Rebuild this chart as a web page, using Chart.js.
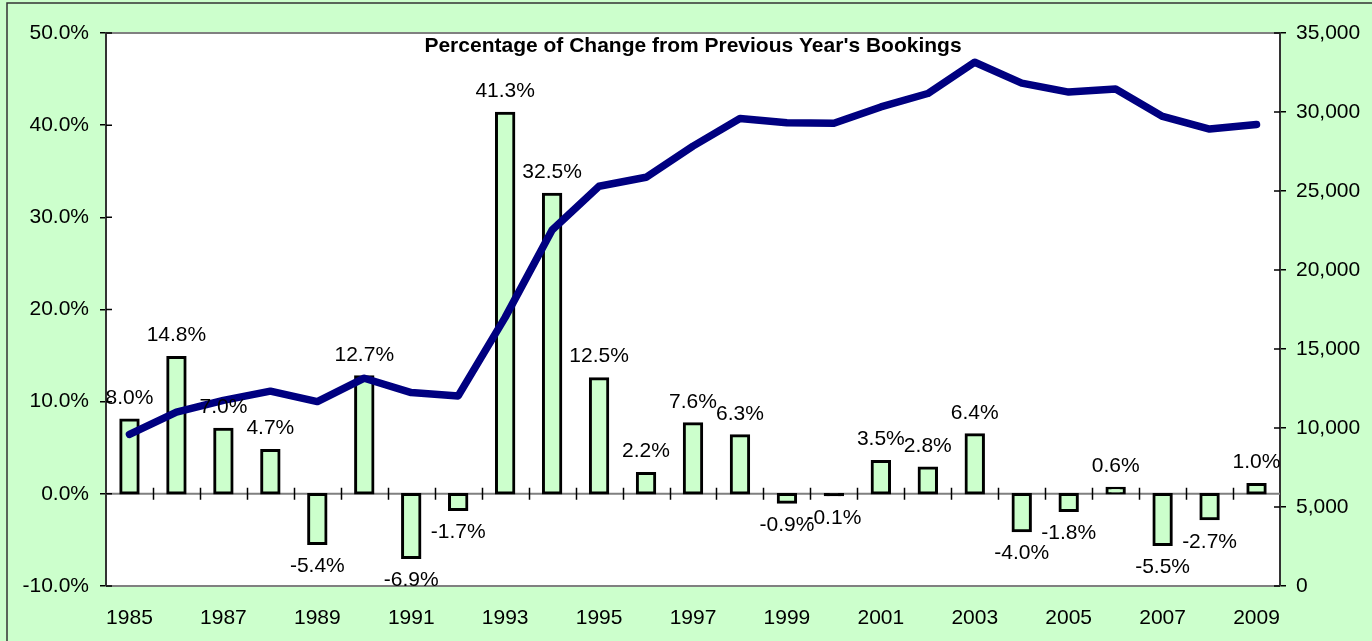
<!DOCTYPE html>
<html>
<head>
<meta charset="utf-8">
<script src="https://cdn.jsdelivr.net/npm/chart.js@4.4.1/dist/chart.umd.min.js"></script>
<style>
  html, body { margin: 0; padding: 0; background: #ccffcc; }
  #wrap { width: 1372px; height: 641px; position: relative; }
</style>
</head>
<body>
<div id="wrap"><canvas id="bookingsChart"></canvas></div>
<script>
// yearly bookings and % change from the year before
const years = ["1985", "1986", "1987", "1988", "1989", "1990", "1991", "1992", "1993", "1994",
  "1995", "1996", "1997", "1998", "1999", "2000", "2001", "2002", "2003", "2004",
  "2005", "2006", "2007", "2008", "2009"];

const pctChange = [8.0, 14.8, 7.0, 4.7, -5.4, 12.7, -6.9, -1.7, 41.3, 32.5,
  12.5, 2.2, 7.6, 6.3, -0.9, -0.1, 3.5, 2.8, 6.4, -4.0,
  -1.8, 0.6, -5.5, -2.7, 1.0];

const bookings = [9600, 11000, 11750, 12330, 11670, 13150, 12240, 12030, 17000, 22530,
  25300, 25870, 27840, 29590, 29320, 29290, 30320, 31170, 33150, 31830,
  31260, 31450, 29720, 28920, 29210];

const pctTicks = [-10, 0, 10, 20, 30, 40, 50];
const bookingTicks = [0, 5000, 10000, 15000, 20000, 25000, 30000, 35000];

const chartTitle = "Percentage of Change from Previous Year's Bookings";

const fontFamily = "'Liberation Sans', Arial, sans-serif";
Chart.defaults.font.family = fontFamily;
Chart.defaults.font.size = 21;
Chart.defaults.color = "#000";

const tickFont = { size: 21 };

// white plot area, outer frame, zero line with category ticks
const plotFrame = {
  id: "plotFrame",
  beforeDraw(chart) {
    const { ctx, chartArea: a } = chart;
    ctx.save();
    ctx.fillStyle = "#fff";
    ctx.fillRect(a.left, a.top, a.right - a.left, a.bottom - a.top);
    ctx.strokeStyle = "#333";
    ctx.lineWidth = 1.5;
    ctx.beginPath();
    ctx.moveTo(7, chart.height);
    ctx.lineTo(7, 3);
    ctx.lineTo(chart.width, 3);
    ctx.stroke();
    ctx.restore();
  },
  beforeDatasetsDraw(chart) {
    const { ctx, chartArea: a, scales } = chart;
    const x = scales.x;
    const yl = scales.yLeft;
    const yr = scales.yRight;
    ctx.save();
    ctx.strokeStyle = "#808080";
    ctx.lineWidth = 2;
    ctx.beginPath();
    ctx.moveTo(a.left, a.top);
    ctx.lineTo(a.right, a.top);
    ctx.moveTo(a.left, a.bottom);
    ctx.lineTo(a.right, a.bottom);
    const y0 = yl.getPixelForValue(0);
    ctx.moveTo(a.left, y0);
    ctx.lineTo(a.right, y0);
    ctx.stroke();

    ctx.strokeStyle = "#000";
    ctx.lineWidth = 1.5;
    ctx.beginPath();
    for (let i = 1; i < years.length; i++) {
      const bx = Math.round((x.getPixelForValue(i - 1) + x.getPixelForValue(i)) / 2) + 0.5;
      ctx.moveTo(bx, y0 - 6);
      ctx.lineTo(bx, y0 + 6);
    }
    // inner halves of the value-axis ticks
    pctTicks.forEach((v) => {
      const ty = yl.getPixelForValue(v);
      ctx.moveTo(a.left, ty);
      ctx.lineTo(a.left + 6, ty);
    });
    bookingTicks.forEach((v) => {
      const ty = yr.getPixelForValue(v);
      ctx.moveTo(a.right - 6, ty);
      ctx.lineTo(a.right, ty);
    });
    ctx.stroke();
    ctx.restore();
  },
  afterDatasetsDraw(chart) {
    const { ctx, chartArea: a } = chart;
    ctx.save();
    ctx.fillStyle = "#000";
    ctx.font = "bold 21px " + fontFamily;
    ctx.textAlign = "center";
    ctx.textBaseline = "middle";
    ctx.fillText(chartTitle, (a.left + a.right) / 2, a.top + 13);

    // value labels outside the end of each bar
    const meta = chart.getDatasetMeta(1);
    ctx.font = "21px " + fontFamily;
    meta.data.forEach((bar, i) => {
      const v = pctChange[i];
      const top = Math.min(bar.y, bar.base);
      const bottom = Math.max(bar.y, bar.base);
      const ly = v >= 0 ? top - 22 : bottom + 23;
      ctx.fillText(v.toFixed(1) + "%", bar.x, ly);
    });
    ctx.restore();
  },
};

const ctx = document.getElementById("bookingsChart");

new Chart(ctx, {
  data: {
    labels: years,
    datasets: [
      {
        type: "line",
        data: bookings,
        yAxisID: "yRight",
        borderColor: "#000080",
        borderWidth: 7.5,
        borderCapStyle: "round",
        borderJoinStyle: "round",
        pointRadius: 0,
        tension: 0,
        order: 1,
      },
      {
        type: "bar",
        data: pctChange,
        yAxisID: "yLeft",
        // a near-zero bar shows only as its outline
        backgroundColor: (c) => (Math.abs(c.raw) < 0.3 ? "#000" : "#ccffcc"),
        borderColor: "#000",
        borderWidth: 3,
        borderSkipped: false,
        inflateAmount: 1.5,
        barPercentage: 0.37,
        categoryPercentage: 1,
        order: 2,
      },
    ],
  },
  options: {
    responsive: true,
    maintainAspectRatio: false,
    animation: false,
    layout: { padding: { top: 33, left: 0, right: 0, bottom: 0 } },
    plugins: {
      legend: { display: false },
      tooltip: { enabled: false },
    },
    scales: {
      x: {
        offset: true,
        grid: { display: false },
        border: { display: false },
        ticks: {
          autoSkip: false,
          maxRotation: 0,
          padding: 12,
          font: tickFont,
          callback: (v, i) => (i % 2 === 0 ? years[i] : ""),
        },
        afterFit: (s) => {
          s.height = 55;
        },
      },
      yLeft: {
        position: "left",
        min: -10,
        max: 50,
        afterBuildTicks: (s) => {
          s.ticks = pctTicks.map((v) => ({ value: v }));
        },
        ticks: {
          padding: 11,
          font: tickFont,
          callback: (v) => v.toFixed(1) + "%",
        },
        grid: { drawOnChartArea: false, tickLength: 6, color: "#000", lineWidth: 1.5 },
        border: { color: "#333", width: 2 },
        afterFit: (s) => {
          s.width = 106;
        },
      },
      yRight: {
        position: "right",
        min: 0,
        max: 35000,
        afterBuildTicks: (s) => {
          s.ticks = bookingTicks.map((v) => ({ value: v }));
        },
        ticks: {
          padding: 10,
          font: tickFont,
          callback: (v) => v.toLocaleString("en-US"),
        },
        grid: { drawOnChartArea: false, tickLength: 6, color: "#000", lineWidth: 1.5 },
        border: { color: "#333", width: 2 },
        afterFit: (s) => {
          s.width = 92;
        },
      },
    },
  },
  plugins: [plotFrame],
});
</script>
</body>
</html>
